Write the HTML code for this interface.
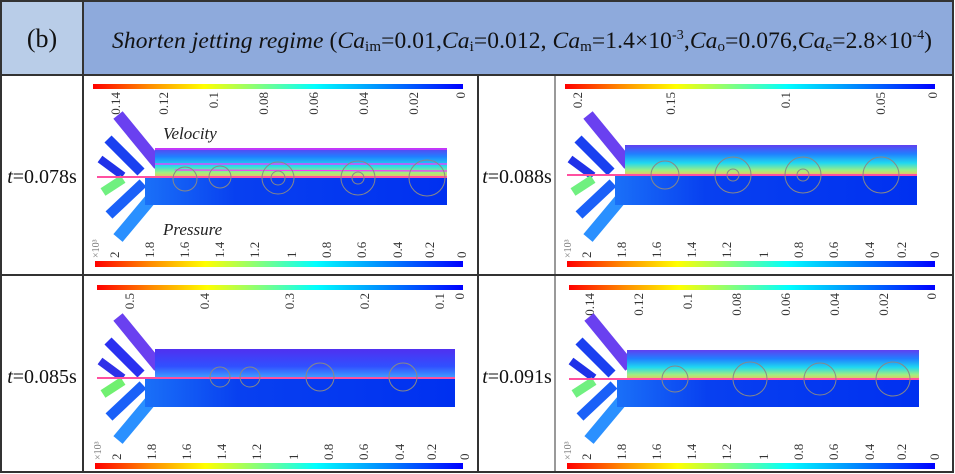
<!DOCTYPE html>
<html><head><meta charset="utf-8"><style>
html,body{margin:0;padding:0;background:#fff}
svg{display:block}
.tk{font-family:"Liberation Serif",serif;font-size:13px;fill:#333}
</style></head><body>
<svg width="955" height="474" viewBox="0 0 955 474" xmlns="http://www.w3.org/2000/svg">
<defs>
<linearGradient id="jet" x1="0" x2="1" y1="0" y2="0">
<stop offset="0" stop-color="#ff0000"/><stop offset="0.15" stop-color="#ff8a00"/><stop offset="0.3" stop-color="#ffff00"/><stop offset="0.45" stop-color="#80ff80"/><stop offset="0.6" stop-color="#00ffff"/><stop offset="0.8" stop-color="#0080ff"/><stop offset="1" stop-color="#0000ff"/>
</linearGradient>
<linearGradient id="up" x1="0" x2="0" y1="0" y2="1">
<stop offset="0" stop-color="#6040f0"/><stop offset="0.3" stop-color="#2080ff"/><stop offset="0.6" stop-color="#20d8f0"/><stop offset="0.85" stop-color="#a0f080"/><stop offset="1" stop-color="#f0c060"/>
</linearGradient>
<linearGradient id="up3" x1="0" x2="0" y1="0" y2="1">
<stop offset="0" stop-color="#5030f0"/><stop offset="0.6" stop-color="#3050ff"/><stop offset="1" stop-color="#40a0ff"/>
</linearGradient>
<linearGradient id="low" x1="0" x2="1" y1="0" y2="0">
<stop offset="0" stop-color="#1a70f8"/><stop offset="0.3" stop-color="#0840f0"/><stop offset="1" stop-color="#0030f0"/>
</linearGradient>
</defs>
<rect width="955" height="474" fill="#fff"/>
<rect x="0" y="0" width="83" height="75" fill="#b9cde8"/>
<rect x="83" y="0" width="870" height="75" fill="#8eaadc"/>
<text x="42" y="47" text-anchor="middle" font-family="Liberation Serif,serif" font-size="26" fill="#111">(b)</text>
<text x="112" y="48" font-family="Liberation Serif,serif" font-size="23.5" fill="#111" textLength="820" lengthAdjust="spacing"><tspan font-style="italic">Shorten jetting regime</tspan> (<tspan font-style="italic">Ca</tspan><tspan font-size="15" dy="3">im</tspan><tspan dy="-3">=0.01,</tspan><tspan font-style="italic">Ca</tspan><tspan font-size="15" dy="3">i</tspan><tspan dy="-3">=0.012, </tspan><tspan font-style="italic">Ca</tspan><tspan font-size="15" dy="3">m</tspan><tspan dy="-3">=1.4×10</tspan><tspan font-size="14" dy="-9">-3</tspan><tspan dy="9">,</tspan><tspan font-style="italic">Ca</tspan><tspan font-size="15" dy="3">o</tspan><tspan dy="-3">=0.076,</tspan><tspan font-style="italic">Ca</tspan><tspan font-size="15" dy="3">e</tspan><tspan dy="-3">=2.8×10</tspan><tspan font-size="14" dy="-9">-4</tspan><tspan dy="9">)</tspan></text>
<g stroke="#333" stroke-width="2" fill="none">
<rect x="1" y="1" width="952" height="471"/>
<line x1="0" y1="75" x2="953" y2="75"/>
<line x1="0" y1="275" x2="953" y2="275"/>
<line x1="83" y1="0" x2="83" y2="472"/>
<line x1="478" y1="75" x2="478" y2="472"/>
<line x1="555" y1="75" x2="555" y2="472" stroke-width="1"/>
</g>
<g font-family="Liberation Serif,serif" font-size="20" fill="#111" text-anchor="middle">
<text x="42" y="183"><tspan font-style="italic">t</tspan>=0.078s</text>
<text x="517" y="183"><tspan font-style="italic">t</tspan>=0.088s</text>
<text x="42" y="383"><tspan font-style="italic">t</tspan>=0.085s</text>
<text x="517" y="383"><tspan font-style="italic">t</tspan>=0.091s</text>
</g>

<!-- PANEL 1 -->
<g transform="translate(85,75)">
<rect x="8" y="9" width="370" height="5" fill="url(#jet)"/>
<g class="tk" text-anchor="end">
<text transform="translate(35,17) rotate(-90)">0.14</text><text transform="translate(83,17) rotate(-90)">0.12</text><text transform="translate(133,17) rotate(-90)">0.1</text><text transform="translate(183,17) rotate(-90)">0.08</text><text transform="translate(233,17) rotate(-90)">0.06</text><text transform="translate(283,17) rotate(-90)">0.04</text><text transform="translate(333,17) rotate(-90)">0.02</text><text transform="translate(380,17) rotate(-90)">0</text>
</g>
<g>
<line x1="33" y1="40" x2="74" y2="90" stroke="#6a40f0" stroke-width="12"/>
<line x1="23" y1="64" x2="56" y2="97" stroke="#1a40f0" stroke-width="10"/>
<line x1="15" y1="84" x2="38" y2="101" stroke="#2030e8" stroke-width="8"/>
<line x1="18" y1="117" x2="38" y2="104" stroke="#70f080" stroke-width="9"/>
<line x1="24" y1="140" x2="58" y2="108" stroke="#1a60f8" stroke-width="10"/>
<line x1="33" y1="163" x2="74" y2="114" stroke="#2a90ff" stroke-width="12"/>
</g>
<rect x="70" y="73" width="292" height="29" fill="url(#up)"/>
<rect x="60" y="102" width="302" height="28" fill="url(#low)"/>
<rect x="12" y="101" width="350" height="2" fill="#ff50a0"/>
<g stroke="#ff30ff" stroke-width="1.2" fill="none"><line x1="70" y1="74" x2="362" y2="74"/><line x1="70" y1="89" x2="362" y2="89"/><line x1="90" y1="95" x2="362" y2="96"/></g>
<g stroke="#888" stroke-width="1" fill="none"><circle cx="100" cy="104" r="12"/><circle cx="135" cy="102" r="11"/><circle cx="193" cy="103" r="16"/><circle cx="193" cy="103" r="7"/><circle cx="273" cy="103" r="17"/><circle cx="273" cy="103" r="6"/><circle cx="342" cy="103" r="18"/></g>
<text x="78" y="64" font-family="Liberation Serif,serif" font-style="italic" font-size="17" fill="#222">Velocity</text>
<text x="78" y="160" font-family="Liberation Serif,serif" font-style="italic" font-size="17" fill="#222">Pressure</text>
<text class="tk" transform="translate(14,183) rotate(-90)" style="font-size:10px;fill:#777">×10³</text>
<g class="tk">
<text transform="translate(34,183) rotate(-90)">2</text><text transform="translate(69,183) rotate(-90)">1.8</text><text transform="translate(104,183) rotate(-90)">1.6</text><text transform="translate(139,183) rotate(-90)">1.4</text><text transform="translate(174,183) rotate(-90)">1.2</text><text transform="translate(211,183) rotate(-90)">1</text><text transform="translate(246,183) rotate(-90)">0.8</text><text transform="translate(281,183) rotate(-90)">0.6</text><text transform="translate(317,183) rotate(-90)">0.4</text><text transform="translate(349,183) rotate(-90)">0.2</text><text transform="translate(381,183) rotate(-90)">0</text>
</g>
<rect x="10" y="186" width="368" height="6" fill="url(#jet)"/>
</g>

<!-- PANEL 2 -->
<g transform="translate(555,75)">
<rect x="10" y="9" width="370" height="5" fill="url(#jet)"/>
<g class="tk" text-anchor="end">
<text transform="translate(27,17) rotate(-90)">0.2</text><text transform="translate(120,17) rotate(-90)">0.15</text><text transform="translate(235,17) rotate(-90)">0.1</text><text transform="translate(330,17) rotate(-90)">0.05</text><text transform="translate(382,17) rotate(-90)">0</text>
</g>
<g>
<line x1="33" y1="40" x2="74" y2="90" stroke="#6a40f0" stroke-width="12"/>
<line x1="23" y1="64" x2="56" y2="97" stroke="#1a40f0" stroke-width="10"/>
<line x1="15" y1="84" x2="38" y2="101" stroke="#2030e8" stroke-width="8"/>
<line x1="18" y1="117" x2="38" y2="104" stroke="#70f080" stroke-width="9"/>
<line x1="24" y1="140" x2="58" y2="108" stroke="#1a60f8" stroke-width="10"/>
<line x1="33" y1="163" x2="74" y2="114" stroke="#2a90ff" stroke-width="12"/>
</g>
<rect x="70" y="70" width="292" height="30" fill="url(#up)"/>
<rect x="60" y="100" width="302" height="30" fill="url(#low)"/>
<rect x="12" y="99" width="350" height="2" fill="#ff50a0"/>
<g stroke="#888" stroke-width="1" fill="none"><circle cx="110" cy="100" r="14"/><circle cx="178" cy="100" r="18"/><circle cx="178" cy="100" r="6"/><circle cx="248" cy="100" r="18"/><circle cx="248" cy="100" r="6"/><circle cx="326" cy="100" r="18"/></g>
<text class="tk" transform="translate(16,183) rotate(-90)" style="font-size:10px;fill:#777">×10³</text>
<g class="tk">
<text transform="translate(36,183) rotate(-90)">2</text><text transform="translate(71,183) rotate(-90)">1.8</text><text transform="translate(106,183) rotate(-90)">1.6</text><text transform="translate(141,183) rotate(-90)">1.4</text><text transform="translate(176,183) rotate(-90)">1.2</text><text transform="translate(213,183) rotate(-90)">1</text><text transform="translate(248,183) rotate(-90)">0.8</text><text transform="translate(283,183) rotate(-90)">0.6</text><text transform="translate(319,183) rotate(-90)">0.4</text><text transform="translate(351,183) rotate(-90)">0.2</text><text transform="translate(384,183) rotate(-90)">0</text>
</g>
<rect x="12" y="186" width="368" height="6" fill="url(#jet)"/>
</g>

<!-- PANEL 3 -->
<g transform="translate(85,277)">
<rect x="12" y="8" width="366" height="5" fill="url(#jet)"/>
<g class="tk" text-anchor="end">
<text transform="translate(49,16) rotate(-90)">0.5</text><text transform="translate(124,16) rotate(-90)">0.4</text><text transform="translate(209,16) rotate(-90)">0.3</text><text transform="translate(284,16) rotate(-90)">0.2</text><text transform="translate(359,16) rotate(-90)">0.1</text><text transform="translate(379,16) rotate(-90)">0</text>
</g>
<g>
<line x1="33" y1="40" x2="74" y2="90" stroke="#6a40f0" stroke-width="12"/>
<line x1="23" y1="64" x2="56" y2="97" stroke="#2a30f0" stroke-width="10"/>
<line x1="15" y1="84" x2="38" y2="101" stroke="#3030e8" stroke-width="8"/>
<line x1="18" y1="117" x2="38" y2="104" stroke="#70f070" stroke-width="9"/>
<line x1="24" y1="140" x2="58" y2="108" stroke="#1a60f8" stroke-width="10"/>
<line x1="33" y1="163" x2="74" y2="114" stroke="#2a90ff" stroke-width="12"/>
</g>
<rect x="70" y="72" width="300" height="29" fill="url(#up3)"/>
<rect x="60" y="101" width="310" height="29" fill="url(#low)"/>
<rect x="12" y="100" width="358" height="2" fill="#ff50a0"/>
<g stroke="#888" stroke-width="1" fill="none"><circle cx="135" cy="100" r="10"/><circle cx="165" cy="100" r="10"/><circle cx="235" cy="100" r="14"/><circle cx="318" cy="100" r="14"/></g>
<text class="tk" transform="translate(16,183) rotate(-90)" style="font-size:10px;fill:#777">×10³</text>
<g class="tk">
<text transform="translate(36,183) rotate(-90)">2</text><text transform="translate(71,183) rotate(-90)">1.8</text><text transform="translate(106,183) rotate(-90)">1.6</text><text transform="translate(141,183) rotate(-90)">1.4</text><text transform="translate(176,183) rotate(-90)">1.2</text><text transform="translate(213,183) rotate(-90)">1</text><text transform="translate(248,183) rotate(-90)">0.8</text><text transform="translate(283,183) rotate(-90)">0.6</text><text transform="translate(319,183) rotate(-90)">0.4</text><text transform="translate(351,183) rotate(-90)">0.2</text><text transform="translate(384,183) rotate(-90)">0</text>
</g>
<rect x="10" y="186" width="368" height="6" fill="url(#jet)"/>
</g>

<!-- PANEL 4 -->
<g transform="translate(555,277)">
<rect x="14" y="8" width="366" height="5" fill="url(#jet)"/>
<g class="tk" text-anchor="end">
<text transform="translate(39,16) rotate(-90)">0.14</text><text transform="translate(88,16) rotate(-90)">0.12</text><text transform="translate(137,16) rotate(-90)">0.1</text><text transform="translate(186,16) rotate(-90)">0.08</text><text transform="translate(235,16) rotate(-90)">0.06</text><text transform="translate(284,16) rotate(-90)">0.04</text><text transform="translate(333,16) rotate(-90)">0.02</text><text transform="translate(381,16) rotate(-90)">0</text>
</g>
<g>
<line x1="34" y1="40" x2="75" y2="90" stroke="#6a40f0" stroke-width="12"/>
<line x1="24" y1="64" x2="57" y2="97" stroke="#1a40f0" stroke-width="10"/>
<line x1="16" y1="84" x2="39" y2="101" stroke="#2030e8" stroke-width="8"/>
<line x1="19" y1="117" x2="39" y2="104" stroke="#70f080" stroke-width="9"/>
<line x1="25" y1="140" x2="59" y2="108" stroke="#1a60f8" stroke-width="10"/>
<line x1="34" y1="163" x2="75" y2="114" stroke="#2a90ff" stroke-width="12"/>
</g>
<rect x="72" y="73" width="292" height="29" fill="url(#up)"/>
<rect x="62" y="102" width="302" height="28" fill="url(#low)"/>
<rect x="14" y="101" width="350" height="2" fill="#ff50a0"/>
<g stroke="#888" stroke-width="1" fill="none"><circle cx="120" cy="102" r="13"/><circle cx="195" cy="102" r="17"/><circle cx="265" cy="102" r="16"/><circle cx="338" cy="102" r="17"/></g>
<text class="tk" transform="translate(16,183) rotate(-90)" style="font-size:10px;fill:#777">×10³</text>
<g class="tk">
<text transform="translate(36,183) rotate(-90)">2</text><text transform="translate(71,183) rotate(-90)">1.8</text><text transform="translate(106,183) rotate(-90)">1.6</text><text transform="translate(141,183) rotate(-90)">1.4</text><text transform="translate(176,183) rotate(-90)">1.2</text><text transform="translate(213,183) rotate(-90)">1</text><text transform="translate(248,183) rotate(-90)">0.8</text><text transform="translate(283,183) rotate(-90)">0.6</text><text transform="translate(319,183) rotate(-90)">0.4</text><text transform="translate(351,183) rotate(-90)">0.2</text><text transform="translate(384,183) rotate(-90)">0</text>
</g>
<rect x="12" y="186" width="368" height="6" fill="url(#jet)"/>
</g>
</svg>
</body></html>
